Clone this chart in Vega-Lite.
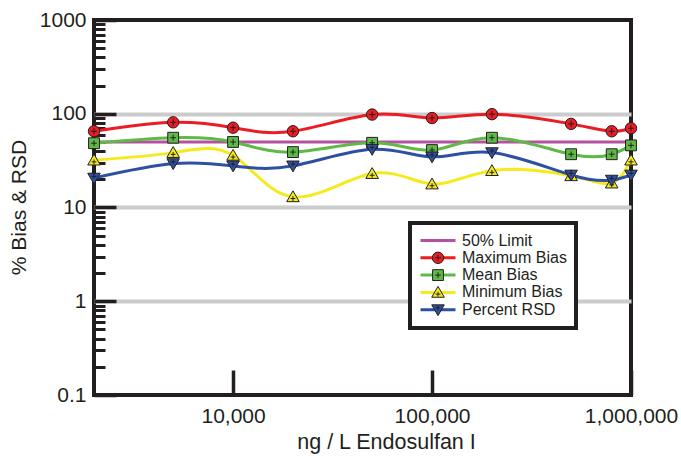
{
  "$schema": "https://vega.github.io/schema/vega-lite/v6.json",
  "width": 537,
  "height": 375,
  "autosize": {"type": "none"},
  "padding": {"left": 94, "top": 20, "right": 50, "bottom": 68},
  "background": "white",
  "config": {
    "font": "Liberation Sans",
    "view": {"stroke": "#231f20", "strokeWidth": 4}
  },
  "data": {
    "values": [
      {"x": 2000, "y": 50, "s": "50% Limit"},
      {"x": 1000000, "y": 50, "s": "50% Limit"},
      {"x": 2000, "y": 65, "s": "Maximum Bias"},
      {"x": 5000, "y": 81, "s": "Maximum Bias"},
      {"x": 10000, "y": 71, "s": "Maximum Bias"},
      {"x": 20000, "y": 65, "s": "Maximum Bias"},
      {"x": 50000, "y": 98, "s": "Maximum Bias"},
      {"x": 100000, "y": 90, "s": "Maximum Bias"},
      {"x": 200000, "y": 99, "s": "Maximum Bias"},
      {"x": 500000, "y": 78, "s": "Maximum Bias"},
      {"x": 800000, "y": 65, "s": "Maximum Bias"},
      {"x": 1000000, "y": 70, "s": "Maximum Bias"},
      {"x": 2000, "y": 48.5, "s": "Mean Bias"},
      {"x": 5000, "y": 55.5, "s": "Mean Bias"},
      {"x": 10000, "y": 50, "s": "Mean Bias"},
      {"x": 20000, "y": 39, "s": "Mean Bias"},
      {"x": 50000, "y": 49, "s": "Mean Bias"},
      {"x": 100000, "y": 41, "s": "Mean Bias"},
      {"x": 200000, "y": 55.5, "s": "Mean Bias"},
      {"x": 500000, "y": 37, "s": "Mean Bias"},
      {"x": 800000, "y": 37, "s": "Mean Bias"},
      {"x": 1000000, "y": 46, "s": "Mean Bias"},
      {"x": 2000, "y": 32, "s": "Minimum Bias"},
      {"x": 5000, "y": 38.5, "s": "Minimum Bias"},
      {"x": 10000, "y": 36, "s": "Minimum Bias"},
      {"x": 20000, "y": 13, "s": "Minimum Bias"},
      {"x": 50000, "y": 23, "s": "Minimum Bias"},
      {"x": 100000, "y": 17.8, "s": "Minimum Bias"},
      {"x": 200000, "y": 24.7, "s": "Minimum Bias"},
      {"x": 500000, "y": 21.8, "s": "Minimum Bias"},
      {"x": 800000, "y": 18.2, "s": "Minimum Bias"},
      {"x": 1000000, "y": 32, "s": "Minimum Bias"},
      {"x": 2000, "y": 20.6, "s": "Percent RSD"},
      {"x": 5000, "y": 29.4, "s": "Percent RSD"},
      {"x": 10000, "y": 27.8, "s": "Percent RSD"},
      {"x": 20000, "y": 27.8, "s": "Percent RSD"},
      {"x": 50000, "y": 41.8, "s": "Percent RSD"},
      {"x": 100000, "y": 34.7, "s": "Percent RSD"},
      {"x": 200000, "y": 38.5, "s": "Percent RSD"},
      {"x": 500000, "y": 22.2, "s": "Percent RSD"},
      {"x": 800000, "y": 19.6, "s": "Percent RSD"},
      {"x": 1000000, "y": 22.2, "s": "Percent RSD"}
    ]
  },
  "encoding": {
    "x": {
      "field": "x",
      "type": "quantitative",
      "scale": {"type": "log", "domain": [2000, 1000000], "nice": false},
      "axis": {
        "values": [10000, 100000, 1000000],
        "format": ",d",
        "tickSize": -25,
        "tickWidth": 3.5,
        "tickColor": "#231f20",
        "domain": false,
        "grid": false,
        "labelFontSize": 21,
        "labelFont": "Liberation Sans",
        "labelColor": "#231f20",
        "labelPadding": 35,
        "labelFlush": false,
        "labelOverlap": false,
        "title": "ng / L Endosulfan I",
        "titleFont": "Liberation Sans",
        "titleFontSize": 21.5,
        "titleFontWeight": "normal",
        "titleColor": "#231f20",
        "titleX": 292,
        "titleAlign": "center",
        "titleY": 53,
        "titleBaseline": "alphabetic"
      }
    }
  },
  "layer": [
    {
      "mark": {"type": "line", "interpolate": "natural", "strokeWidth": 3},
      "encoding": {
        "y": {
          "field": "y",
          "type": "quantitative",
          "scale": {"type": "log", "domain": [0.1, 1000], "nice": false},
          "axis": {
            "orient": "left",
            "values": [0.1, 1, 10, 100, 1000],
            "format": "~g",
            "tickSize": -22,
            "tickWidth": 3.5,
            "tickColor": "#231f20",
            "domain": false,
            "grid": true,
            "gridColor": {"condition": {"test": "datum.value > 500 || datum.value < 0.5", "value": "rgba(0,0,0,0)"}, "value": "#cccccc"},
            "gridWidth": 4,
            "labelFontSize": 21,
            "labelFont": "Liberation Sans",
            "labelColor": "#231f20",
            "labelPadding": 30,
            "labelFlush": false,
            "labelOverlap": false,
            "title": "% Bias & RSD",
            "titleFont": "Liberation Sans",
            "titleFontSize": 21,
            "titleFontWeight": "normal",
            "titleColor": "#231f20",
            "titleX": -69,
            "titleY": 187,
            "titleBaseline": "alphabetic"
          }
        },
        "color": {
          "field": "s",
          "type": "nominal",
          "scale": {
            "domain": ["50% Limit", "Maximum Bias", "Mean Bias", "Minimum Bias", "Percent RSD"],
            "range": ["#b5519e", "#ec1c24", "#5fb946", "#f4ea1e", "#2e50a2"]
          },
          "legend": {
            "orient": "none",
            "legendX": 316,
            "legendY": 203,
            "title": null,
            "symbolType": "stroke",
            "symbolSize": 1225,
            "symbolStrokeWidth": 3,
            "symbolOffset": 0,
            "clipHeight": 17,
            "rowPadding": 0.3,
            "labelFontSize": 16,
            "labelFont": "Liberation Sans",
            "labelColor": "#231f20",
            "labelOffset": 5,
            "padding": 9,
            "strokeColor": "#231f20",
            "fillColor": "white",
            "zindex": 1,
            "encode": {"legend": {"update": {"strokeWidth": {"value": 4}}}}
          }
        }
      }
    },
    {
      "transform": [{"filter": "datum.s != '50% Limit'"}],
      "mark": {"type": "point", "filled": true, "opacity": 1, "size": 130, "stroke": "#231f20", "strokeWidth": 1},
      "encoding": {
        "y": {
          "field": "y",
          "type": "quantitative",
          "scale": {"type": "log", "domain": [0.1, 1000], "nice": false},
          "axis": {
            "orient": "left",
            "values": [0.2, 0.3, 0.4, 0.5, 0.6, 0.7, 0.8, 0.9, 2, 3, 4, 5, 6, 7, 8, 9, 20, 30, 40, 50, 60, 70, 80, 90, 200, 300, 400, 500, 600, 700, 800, 900],
            "tickSize": -11,
            "tickWidth": 3,
            "tickColor": "#231f20",
            "labels": false,
            "domain": false,
            "grid": false,
            "title": null
          }
        },
        "fill": {
          "field": "s",
          "type": "nominal",
          "scale": {"range": ["#ec1c24", "#5fb946", "#f4ea1e", "#2e50a2"]},
          "legend": {
            "orient": "none",
            "legendX": 316,
            "legendY": 220.3,
            "title": null,
            "symbolSize": 130,
            "symbolStrokeWidth": 1,
            "symbolOffset": 11,
            "clipHeight": 17,
            "rowPadding": 0.3,
            "labelFontSize": 16,
            "labelExpr": "''",
            "labelOffset": 5,
            "padding": 9,
            "zindex": 2,
            "encode": {"symbols": {"stroke": {"value": "#231f20"}, "strokeWidth": {"value": 1}}}
          }
        },
        "shape": {
          "field": "s",
          "type": "nominal",
          "scale": {
            "range": [
              "M1,0A1,1 0 1,1 -1,0A1,1 0 1,1 1,0Z M-0.55,0H0.55 M0,-0.55V0.55",
              "M-0.95,-0.95H0.95V0.95H-0.95Z M-0.5,0H0.5 M0,-0.5V0.5",
              "M0,-1.05L1.1,0.85H-1.1Z M-0.42,0.3H0.42 M0,-0.12V0.72",
              "M0,1.05L1.1,-0.85H-1.1Z M-0.42,-0.3H0.42 M0,-0.72V0.12"
            ]
          },
          "legend": {
            "orient": "none",
            "legendX": 316,
            "legendY": 220.3,
            "title": null,
            "symbolSize": 130,
            "symbolStrokeWidth": 1,
            "symbolOffset": 11,
            "clipHeight": 17,
            "rowPadding": 0.3,
            "labelFontSize": 16,
            "labelExpr": "''",
            "labelOffset": 5,
            "padding": 9,
            "zindex": 2,
            "encode": {"symbols": {"stroke": {"value": "#231f20"}, "strokeWidth": {"value": 1}}}
          }
        }
      }
    }
  ],
  "resolve": {"scale": {"y": "shared"}, "axis": {"y": "independent"}}
}
